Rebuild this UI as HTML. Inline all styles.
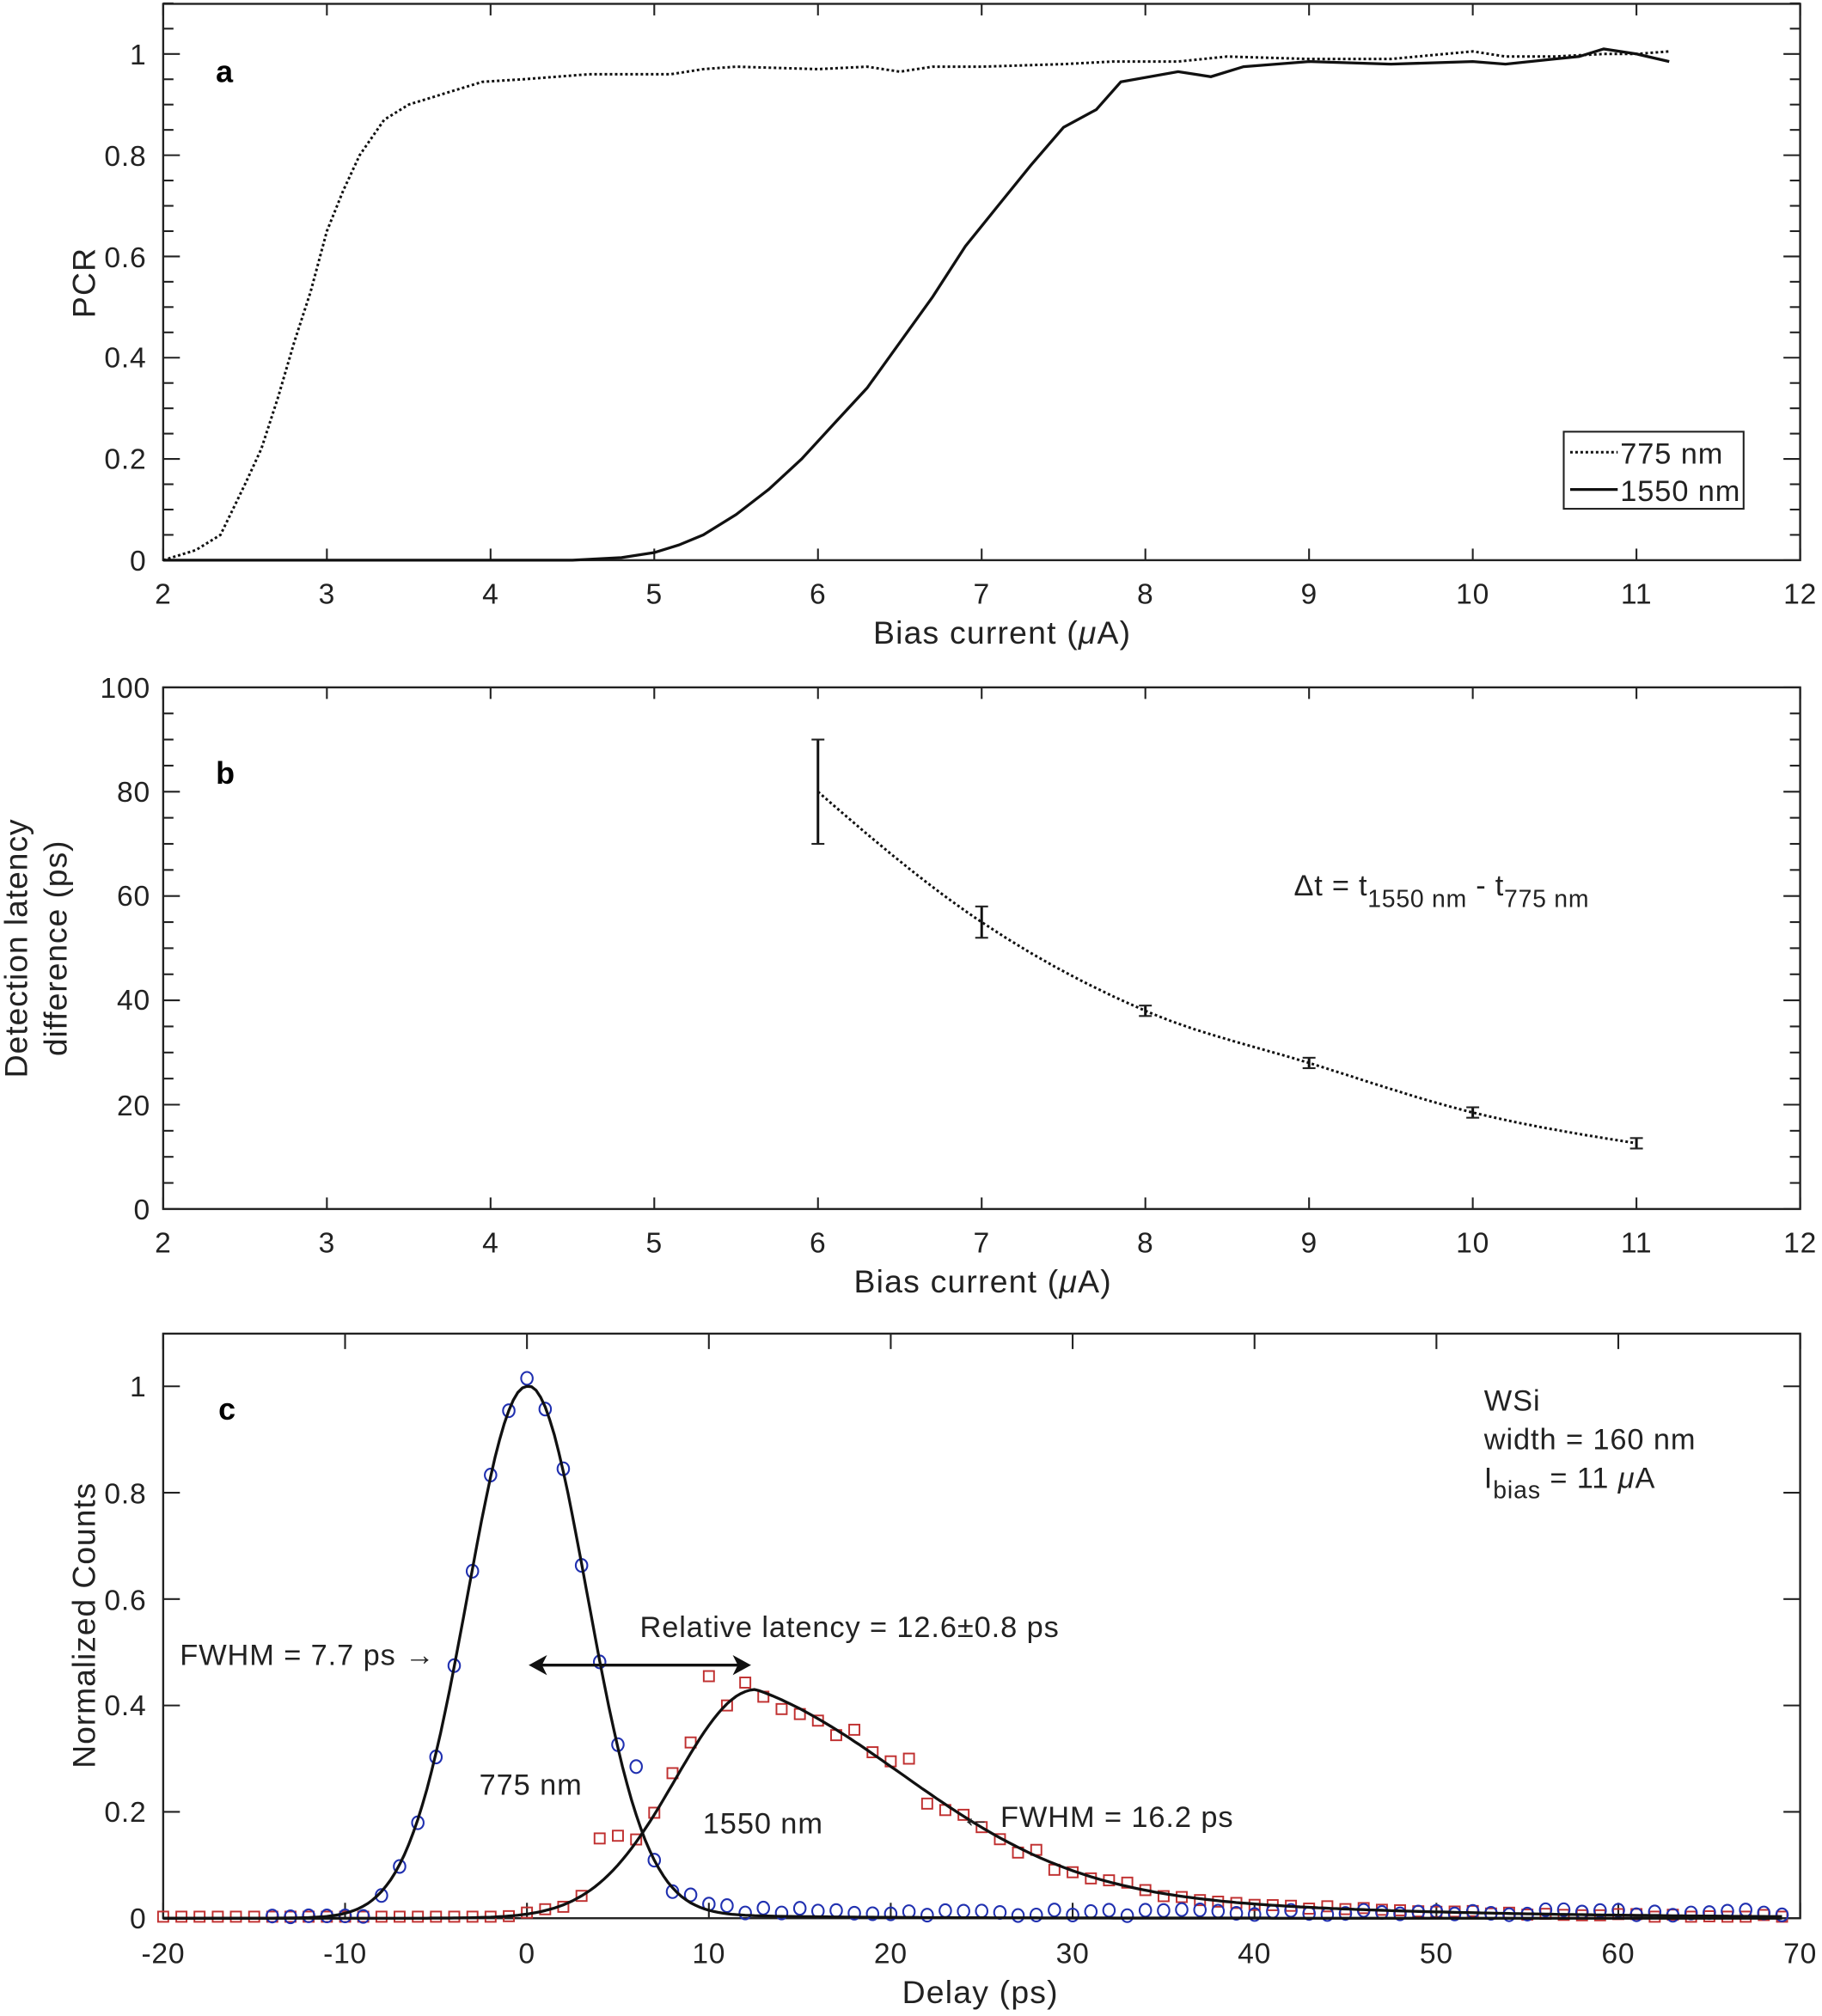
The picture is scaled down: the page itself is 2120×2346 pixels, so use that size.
<!DOCTYPE html>
<html><head><meta charset="utf-8"><style>
html,body{margin:0;padding:0;background:#fff}
svg{display:block}
text{font-family:"Liberation Sans",Arial,sans-serif;fill:#222}
</style></head><body>
<svg id="s" width="2120" height="2346" viewBox="0 0 1418 1569.1" preserveAspectRatio="none" xmlns="http://www.w3.org/2000/svg">
<rect width="1418" height="1570" fill="#fff"/>
<g id="g"></g>
<!-- Panel a text -->
<g font-size="22.5" text-anchor="end" letter-spacing="0.5">
<text x="114" y="444">0</text><text x="114" y="365">0.2</text><text x="114" y="286">0.4</text><text x="114" y="208">0.6</text><text x="114" y="129">0.8</text><text x="114" y="50">1</text>
</g>
<g font-size="22.5" text-anchor="middle" letter-spacing="0.5">
<text x="127" y="470">2</text><text x="254.4" y="470">3</text><text x="381.8" y="470">4</text><text x="509.2" y="470">5</text><text x="636.6" y="470">6</text><text x="764" y="470">7</text><text x="891.4" y="470">8</text><text x="1018.8" y="470">9</text><text x="1146.2" y="470">10</text><text x="1273.6" y="470">11</text><text x="1401" y="470">12</text>
<text x="780" y="501" font-size="25" letter-spacing="0.8">Bias current (<tspan font-style="italic">μ</tspan>A)</text>
<text transform="translate(74,220) rotate(-90)" font-size="25" letter-spacing="0.8">PCR</text>
</g>
<text x="168" y="64" font-size="24" font-weight="bold" style="fill:#000">a</text>
<rect x="1217" y="336" width="140" height="60" fill="#fff" stroke="#222" stroke-width="1.4"/>
<line x1="1222" y1="352" x2="1259" y2="352" stroke="#111" stroke-width="2" stroke-dasharray="2 2"/>
<line x1="1222" y1="381" x2="1259" y2="381" stroke="#111" stroke-width="2.2"/>
<text x="1261" y="361" font-size="23" letter-spacing="0.6">775 nm</text>
<text x="1261" y="390" font-size="23" letter-spacing="0.6">1550 nm</text>
<!-- Panel b text -->
<g font-size="22.5" text-anchor="end" letter-spacing="0.5">
<text x="117" y="949">0</text><text x="117" y="868">20</text><text x="117" y="786">40</text><text x="117" y="705">60</text><text x="117" y="624">80</text><text x="117" y="543">100</text>
</g>
<g font-size="22.5" text-anchor="middle" letter-spacing="0.5">
<text x="127" y="975">2</text><text x="254.4" y="975">3</text><text x="381.8" y="975">4</text><text x="509.2" y="975">5</text><text x="636.6" y="975">6</text><text x="764" y="975">7</text><text x="891.4" y="975">8</text><text x="1018.8" y="975">9</text><text x="1146.2" y="975">10</text><text x="1273.6" y="975">11</text><text x="1401" y="975">12</text>
<text x="765" y="1006" font-size="25" letter-spacing="0.8">Bias current (<tspan font-style="italic">μ</tspan>A)</text>
<text transform="translate(21,738) rotate(-90)" font-size="25" letter-spacing="0.6">Detection latency</text>
<text transform="translate(52,738) rotate(-90)" font-size="25" letter-spacing="0.6">difference (ps)</text>
</g>
<text x="168" y="610" font-size="24" font-weight="bold" style="fill:#000">b</text>
<text x="1007" y="697" font-size="23" letter-spacing="0.5">Δt =  t<tspan font-size="19" dy="9">1550 nm</tspan><tspan dy="-9"> - t</tspan><tspan font-size="19" dy="9">775 nm</tspan></text>
<!-- Panel c text -->
<g font-size="22.5" text-anchor="end" letter-spacing="0.5">
<text x="114" y="1501">0</text><text x="114" y="1418">0.2</text><text x="114" y="1335">0.4</text><text x="114" y="1253">0.6</text><text x="114" y="1170">0.8</text><text x="114" y="1087">1</text>
</g>
<g font-size="22.5" text-anchor="middle" letter-spacing="0.5">
<text x="127" y="1528">-20</text><text x="268.6" y="1528">-10</text><text x="410.1" y="1528">0</text><text x="551.7" y="1528">10</text><text x="693.2" y="1528">20</text><text x="834.8" y="1528">30</text><text x="976.3" y="1528">40</text><text x="1117.9" y="1528">50</text><text x="1259.4" y="1528">60</text><text x="1401" y="1528">70</text>
<text x="763" y="1559" font-size="25" letter-spacing="0.8">Delay (ps)</text>
<text transform="translate(74,1265) rotate(-90)" font-size="25" letter-spacing="0.6">Normalized Counts</text>
</g>
<text x="170" y="1105" font-size="24" font-weight="bold" style="fill:#000">c</text>
<g font-size="23" letter-spacing="0.6">
<text x="1155" y="1098">WSi</text>
<text x="1155" y="1128">width = 160 nm</text>
<text x="1155" y="1158">I<tspan font-size="19" dy="8">bias</tspan><tspan dy="-8"> = 11 </tspan><tspan font-style="italic">μ</tspan>A</text>
<text x="498" y="1274">Relative latency = 12.6±0.8 ps</text>
<text x="140" y="1296">FWHM = 7.7 ps →</text>
<text x="373" y="1397">775 nm</text>
<text x="547" y="1427">1550 nm</text>
<text x="748" y="1422">← FWHM = 16.2 ps</text>
</g>
<line x1="420" y1="1296" x2="576" y2="1296" stroke="#111" stroke-width="2.2"/>
<path d="M413 1296 L424 1290 L421 1296 L424 1302 Z M583 1296 L572 1290 L575 1296 L572 1302 Z" fill="#111" stroke="#111" stroke-width="1.5"/>
</svg>
<script>
var g=document.getElementById('g');var NS='http://www.w3.org/2000/svg';
function el(t,a){var e=document.createElementNS(NS,t);for(var k in a)e.setAttribute(k,a[k]);g.appendChild(e);return e;}
function frame(L,R,T,B){el('rect',{x:L,y:T,width:R-L,height:B-T,fill:'none',stroke:'#222','stroke-width':1.6});}
function tk(x1,y1,x2,y2){el('line',{x1:x1,y1:y1,x2:x2,y2:y2,stroke:'#222','stroke-width':1.4});}
var L=127,R=1401;
var aT=3,aB=436,aU=394;
frame(L,R,aT,aB);
function ax(v){return L+(v-2)*127.4;} function ay(v){return aB-v*aU;}
for(var i=0;i<=10;i++){var x=L+i*127.4;tk(x,aB,x,aB-9);tk(x,aT,x,aT+9);}
for(var i=0;i<=22;i++){var y=aB-i*0.05*aU;var l=(i%4==0)?13:8;tk(L,y,L+l,y);tk(R,y,R-l,y);}
function path(pts,fx,fy,attr){var d='';pts.forEach(function(p,i){d+=(i?'L':'M')+fx(p[0]).toFixed(1)+' '+fy(p[1]).toFixed(1);});attr.d=d;attr.fill='none';el('path',attr);}
var d775=[[2,0],[2.1,0.01],[2.2,0.02],[2.35,0.05],[2.5,0.15],[2.6,0.22],[2.7,0.32],[2.8,0.43],[2.9,0.53],[3.0,0.65],[3.1,0.73],[3.2,0.8],[3.35,0.87],[3.5,0.9],[3.7,0.92],[3.95,0.945],[4.2,0.95],[4.6,0.96],[5.1,0.96],[5.3,0.97],[5.5,0.975],[6,0.97],[6.3,0.975],[6.5,0.965],[6.7,0.975],[7,0.975],[7.5,0.98],[7.8,0.985],[8.2,0.985],[8.5,0.995],[9,0.99],[9.5,0.99],[10,1.005],[10.2,0.995],[10.5,0.995],[10.8,1.0],[11,1.0],[11.2,1.005]];
var d1550=[[2,0],[4.5,0],[4.8,0.005],[5.0,0.015],[5.15,0.03],[5.3,0.05],[5.5,0.09],[5.7,0.14],[5.9,0.2],[6.1,0.27],[6.3,0.34],[6.5,0.43],[6.7,0.52],[6.9,0.62],[7.1,0.70],[7.3,0.78],[7.5,0.855],[7.7,0.89],[7.85,0.945],[8.2,0.965],[8.4,0.955],[8.6,0.975],[8.8,0.98],[9,0.985],[9.5,0.98],[10,0.985],[10.2,0.98],[10.5,0.99],[10.65,0.995],[10.8,1.01],[11,1.0],[11.2,0.985]];
path(d775,ax,ay,{stroke:'#111','stroke-width':2,'stroke-dasharray':'2 2'});
path(d1550,ax,ay,{stroke:'#111','stroke-width':2.2});
// panel b
var bT=535,bB=941,bU=4.06;
frame(L,R,bT,bB);
function by(v){return bB-v*bU;}
for(var i=0;i<=10;i++){var x=L+i*127.4;tk(x,bB,x,bB-9);tk(x,bT,x,bT+9);}
for(var i=0;i<=20;i++){var y=bB-i*5*bU;var l=(i%4==0)?13:8;tk(L,y,L+l,y);tk(R,y,R-l,y);}
var bd=[[6,80,10],[7,55,3],[8,38,1],[9,28,1],[10,18.5,1],[11,12.6,1]];
// Catmull-Rom through points
var bc=[];var P=bd.map(function(p){return [p[0],p[1]];});
P.unshift([5,110]);P.push([12,8.5]);
for(var i=1;i<P.length-2;i++){for(var t=0;t<1;t+=0.05){var p0=P[i-1],p1=P[i],p2=P[i+1],p3=P[i+2];var t2=t*t,t3=t2*t;
var y=0.5*((2*p1[1])+(-p0[1]+p2[1])*t+(2*p0[1]-5*p1[1]+4*p2[1]-p3[1])*t2+(-p0[1]+3*p1[1]-3*p2[1]+p3[1])*t3);bc.push([p1[0]+t,y]);}}
bc.push([11,12.6]);
path(bc,ax,by,{stroke:'#111','stroke-width':2,'stroke-dasharray':'2 2'});
bd.forEach(function(p){var x=ax(p[0]);el('line',{x1:x,y1:by(p[1]+p[2]),x2:x,y2:by(p[1]-p[2]),stroke:'#111','stroke-width':2});tk(x-5,by(p[1]+p[2]),x+5,by(p[1]+p[2]));tk(x-5,by(p[1]-p[2]),x+5,by(p[1]-p[2]));});
// panel c
var cT=1038,cB=1493,cU=414;
frame(L,R,cT,cB);
function cx(v){return L+(v+20)*14.156;} function cy(v){return cB-v*cU;}
for(var i=0;i<=9;i++){var x=L+i*141.56;tk(x,cB,x,cB-12);tk(x,cT,x,cT+12);}
for(var i=0;i<=5;i++){var y=cB-i*0.2*cU;tk(L,y,L+13,y);tk(R,y,R-13,y);}
function fb(x){return 1.0*Math.exp(-x*x/(2*3.27*3.27))+ (x>0?0.02*Math.exp(-x/8)*(1-Math.exp(-x/2)):0);}
function fr(x){var d=x-12.6;if(d<0)return 0.43*Math.exp(-d*d/(2*4.45*4.45));return 0.43*(0.6*Math.exp(-d*d/162)+0.4*Math.exp(-d/14));}
var cb=[],cr=[];for(var x=-20;x<=69;x+=0.25){cb.push([x,fb(x)]);cr.push([x,fr(x)]);}
var seed=7;function rnd(){seed=(seed*16807)%2147483647;return seed/2147483647-0.5;}
for(var x=-20;x<=69;x+=1){var v=fr(x)+rnd()*0.05*Math.min(1,fr(x)*4+0.1);if(x==10)v=0.455;if(x==11)v=0.40;if(x==5)v=0.155;if(x==4)v=0.15;if(x==21)v=0.30;if(x==20)v=0.295;if(v<0.003)v=0.003;el('rect',{x:(cx(x)-4).toFixed(1),y:(cy(v)-4).toFixed(1),width:8,height:8,fill:'none',stroke:'#c03030','stroke-width':1.3});}
for(var x=-14;x<=69;x+=1){var v=fb(x)+(x>8?0.01+rnd()*0.012:rnd()*0.015);if(x==0)v=1.015;if(x==6)v=0.285;if(x<-8)v=0.002+Math.abs(rnd())*0.006;if(v<0)v=0.002;el('ellipse',{cx:cx(x).toFixed(1),cy:cy(v).toFixed(1),rx:4.5,ry:5,fill:'none',stroke:'#2030b0','stroke-width':1.4});}
path(cb,cx,cy,{stroke:'#111','stroke-width':2.2});
path(cr,cx,cy,{stroke:'#111','stroke-width':2.2});
</script>
</body></html>
